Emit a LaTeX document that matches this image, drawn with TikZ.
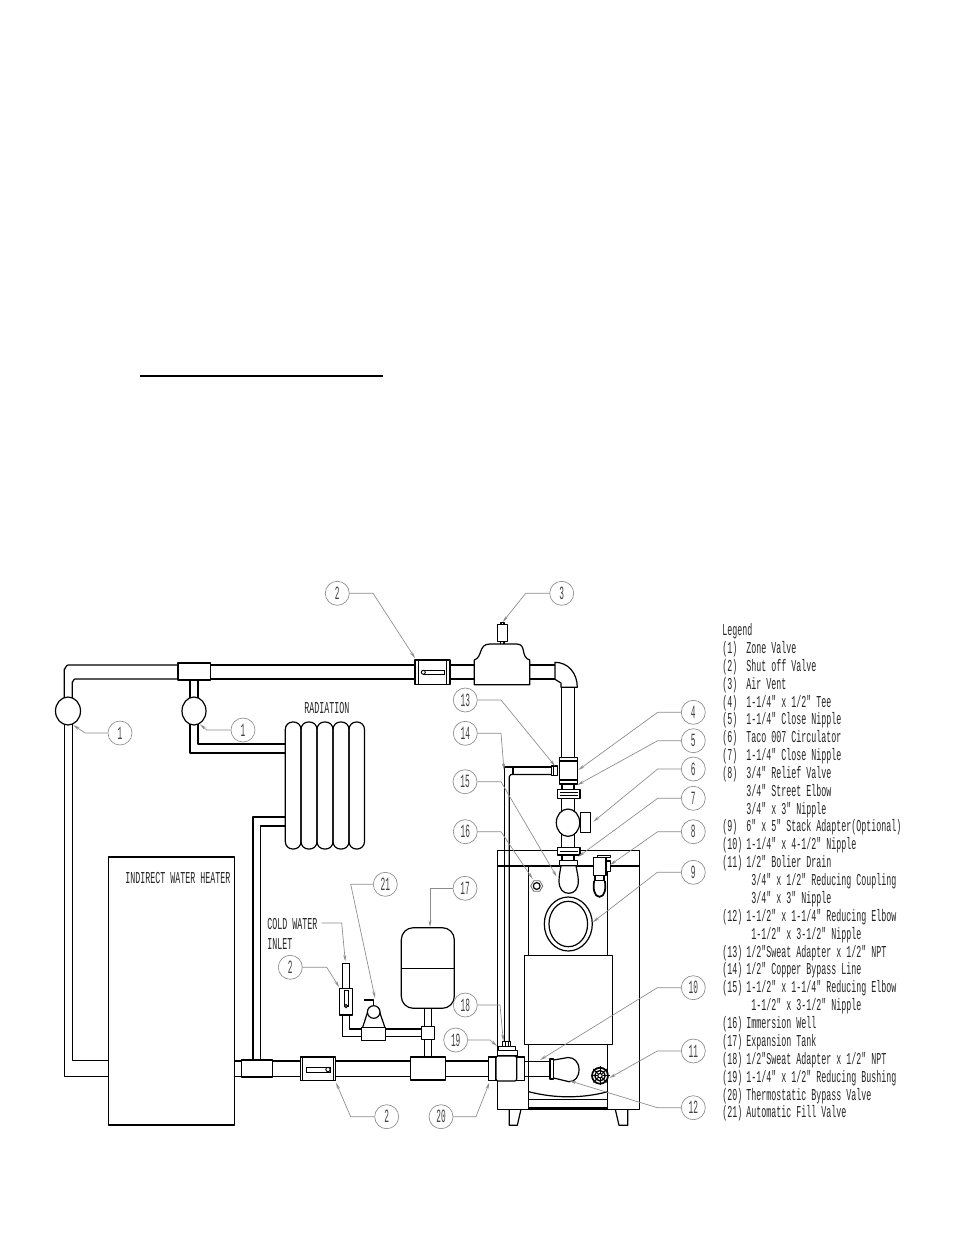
\documentclass[tikz,border=0pt]{standalone}
\usepackage{fontspec}
\usetikzlibrary{arrows.meta}
\newfontfamily\cadfont[FakeStretch=0.5]{Liberation Mono}
\newfontfamily\cadnum[FakeStretch=0.42]{Liberation Mono}
\definecolor{leadgray}{gray}{0.55}
\tikzset{
  x=0.75pt,y=-0.75pt,
  pipe/.style={draw=black,line width=0.9pt,line join=round},
  fit/.style={draw=black,fill=white,line width=0.9pt,line join=round},
  thin line/.style={draw=black,line width=0.7pt},
  callout/.style={circle,draw=black!45,line width=0.5pt,minimum size=18pt,inner sep=0pt,font=\cadnum\fontsize{14}{15}\selectfont,text=black!75},
  leader/.style={draw=leadgray,line width=0.5pt,-{Stealth[length=5pt,width=2.2pt,fill=leadgray]}},
  cad/.style={inner sep=0pt,anchor=base west,yshift=-0.4pt,font=\cadfont\fontsize{12.5}{13}\selectfont,text=black!85},
}
% name, text, circle x,y  bend x,y  tip x,y
\newcommand\callit[5]{%
  \node[callout] (c#1) at (#3) {#2};
  \coordinate (b#1) at (#4);
  \coordinate (t#1) at (#5);
  \draw[leader] (c#1) -- (b#1) -- (t#1);
}
\newcommand\leg[3]{%
  \node[cad] (la#1) at (722,#1) {#2};
  \node[cad] (lb#1) at (746,#1) {#3};
}
\newcommand\legi[2]{\node[cad] (lb#1) at (751,#1) {#2};}
\newcommand\legj[2]{\node[cad] (lb#1) at (746,#1) {#2};}
\begin{document}
\begin{tikzpicture}
\useasboundingbox (0,0) rectangle (954,1235);
\fill[white] (0,0) rectangle (954,1235);
% heading rule
\draw[line width=1.4pt] (140,376) -- (383,376);

% ---------- boiler ----------
\draw[pipe] (497.3,850.3) rectangle (639.3,1109.3);
\draw[pipe] (497.3,866) -- (639.3,866);
\draw[pipe] (528.7,866) -- (528.7,1109.3);
\draw[pipe] (607.7,866) -- (607.7,1109.3);
\draw[pipe] (528.7,1099.3) -- (607.7,1099.3);
\draw[line width=1.4pt] (528.7,1108) -- (607.7,1108);
\draw[pipe] (528.7,1091.7) .. controls (555,1098.5) and (582,1098.5) .. (607.7,1091.7);
\draw[fit] (524.3,955.3) rectangle (612.7,1044.3);
\draw[pipe] (568.3,924) ellipse [x radius=24,y radius=27];
\draw[pipe] (568.3,924) ellipse [x radius=19.3,y radius=22.7];
\draw[pipe] (509.3,1109.3) -- (509.3,1125.3) -- (517.3,1125.3) -- (521,1109.3);
\draw[pipe] (615.3,1109.3) -- (619,1125.3) -- (627.7,1125.3) -- (627.7,1109.3);
% immersion well
\draw[draw=black!60,line width=0.6pt] (542.7,886) -- (539.7,880.8) -- (533.7,880.8) -- (530.7,886) -- (533.7,891.2) -- (539.7,891.2) -- cycle;
\draw[pipe] (536.7,886) circle [radius=3.4];
% drain
\draw[line width=1.3pt] (600,1075.7) circle [radius=8];
\draw[line width=1pt] (600,1075.7) circle [radius=5.2];
\draw[line width=0.8pt] (600,1075.7) circle [radius=2.2];
\foreach \a in {0,45,...,315}{\draw[line width=0.6pt] (600,1075.7) ++(\a:2.5) -- ++(\a:7);}

% ---------- supply and return piping ----------
\draw[pipe] (178,665) -- (68,665) to[out=180,in=-90] (64.3,669) -- (64.3,699);
\draw[pipe] (178,679) -- (75,679) to[out=180,in=-90] (72.3,682) -- (72.3,698);
\draw[pipe] (64.3,724) -- (64.3,1076.7) -- (108.3,1076.7);
\draw[pipe] (72.3,724) -- (72.3,1060.5) -- (108.3,1060.5);
\draw[pipe] (210.7,665) -- (415,665);
\draw[pipe] (210.7,679) -- (415,679);
\draw[pipe] (190,680) -- (190,699);
\draw[pipe] (198,680) -- (198,698);
\draw[pipe] (198,724) -- (198,744) -- (285.3,744);
\draw[pipe] (190,724) -- (190,753) -- (285.3,753);
\draw[pipe] (253,1060) -- (253,817) -- (285.3,817);
\draw[pipe] (260.7,1060) -- (260.7,826) -- (285.3,826);
\draw[fit] (178,663) rectangle (210.7,680);
\draw[fit] (68,711) ellipse [x radius=12.5,y radius=14];
\draw[fit] (194,711) ellipse [x radius=12,y radius=14];
% radiation
\foreach \xa/\xb in {285.3/301,301/317,317/333,333/349,349/364.5}{
  \draw[pipe,rounded corners=5.5pt] (\xa,722) rectangle (\xb,849);
}
\node[cad] (radlabel) at (304,713) {RADIATION};
% water heater
\draw[fit] (108.3,857) rectangle (234.3,1125);
\node[cad] (heaterlabel) at (125,883) {INDIRECT WATER HEATER};

% bottom run
\draw[pipe] (234.3,1061) -- (241.3,1061) (234.3,1076.7) -- (241.3,1076.7);
\draw[pipe] (272.7,1061) -- (300.3,1061) (272.7,1076.7) -- (300.3,1076.7);
\draw[pipe] (335.7,1061) -- (410.3,1061) (335.7,1076.7) -- (410.3,1076.7);
\draw[pipe] (445.7,1061) -- (488.3,1061) (445.7,1076.7) -- (488.3,1076.7);
\draw[fit] (241.3,1060) rectangle (272.7,1077);
\draw[fit] (300.3,1057) rectangle (335.7,1080.7);
\draw[pipe] (302.7,1057) -- (302.7,1080.7) (333.3,1057) -- (333.3,1080.7);
\draw[thin line] (306,1067) rectangle (330,1072);
\draw[thin line,fill=white] (328,1069.5) circle [radius=2.2];
\draw[fit] (410.3,1057) rectangle (445.7,1080);
% expansion tank branch
\draw[pipe] (424.7,1008) -- (424.7,1057) (431.3,1008) -- (431.3,1057);
\draw[pipe,rounded corners=9pt] (401.3,927.7) rectangle (454.3,1008.3);
\draw[pipe] (401.3,968.3) -- (454.3,968.3);
\draw[pipe] (385.7,1029) -- (421.3,1029) (385.7,1036.3) -- (421.3,1036.3);
\draw[fit] (421.3,1026.3) rectangle (434.3,1039.7);
% fill valve
\draw[pipe] (342.3,1015) -- (342.3,1036.3) -- (361.3,1036.3);
\draw[pipe] (349.7,1015) -- (349.7,1029) -- (361.3,1029);
\draw[fit] (361.3,1027.7) rectangle (385.7,1040.3);
\draw[pipe] (362.5,1027.7) -- (368,1011) (385,1027.7) -- (379.3,1011);
\draw[fit] (373.7,1012) circle [radius=6.3];
\draw[pipe] (364.3,1000) -- (373.7,1000) -- (373.7,1005.7);
\draw[pipe] (342.3,963.3) -- (349.7,963.3) (342.3,963.3) -- (342.3,988) (349.7,963.3) -- (349.7,988);
\draw[fit] (339.3,988.3) rectangle (352.7,1015);
\draw[thin line] (344,990.7) rectangle (348,1006.7);
\draw[thin line,fill=white] (346,1006) circle [radius=1.6];
\node[cad] (coldlabel) at (267,929) {COLD WATER};
\node[cad] (inletlabel) at (267,949) {INLET};

% ---------- top of the loop ----------
\draw[fit] (415,660) rectangle (450,684.7);
\draw[pipe] (418.3,660) -- (418.3,684.7) (446.7,660) -- (446.7,684.7);
\draw[thin line] (423.3,670) rectangle (444,674.7);
\draw[thin line,fill=white] (423.3,672.3) circle [radius=2];
\draw[pipe] (450,665) -- (474.3,665) (450,679) -- (474.3,679);
\draw[pipe] (474.3,684.7) -- (474.3,660) .. controls (483,657) and (478,644) .. (490,644) -- (516.7,644) .. controls (527,644) and (520,657) .. (529.7,660) -- (529.7,684.7) -- cycle;
\draw[pipe] (500.7,641.3) -- (500.7,644) (504,641.3) -- (504,644);
\draw[fit] (497.3,624.3) rectangle (507.7,641.3);
\draw[pipe] (501,624.3) -- (501,622.5) -- (504,622.5) -- (504,624.3);
\draw[pipe] (529.7,665) -- (555,665) (529.7,679) -- (555,679);
\draw[pipe] (555,662.3) .. controls (568,662.3) and (577.3,673) .. (577.3,687.3) -- (561,687.3) -- (561,683) -- (555,679.3) -- cycle;

% main riser
\draw[pipe] (561.3,687.3) -- (561.3,757.3) (574.7,687.3) -- (574.7,757.3);
\draw[fit] (559.3,757.3) rectangle (577.7,784);
\draw[pipe] (559.3,761) -- (577.7,761) (559.3,780) -- (577.7,780);
\draw[pipe] (562,784) -- (562,789.3) (574,784) -- (574,789.3);
\draw[fit] (557.3,789.3) rectangle (580,798.3);
\draw[pipe] (560,792.3) -- (577.5,792.3) (560,795.3) -- (577.5,795.3);
\draw[pipe] (561.3,798.3) -- (561.3,812) (574.7,798.3) -- (574.7,812);
\draw[fit] (568,822.7) ellipse [x radius=11.7,y radius=13.7];
\draw[fit] (580.7,812.7) rectangle (590.7,832.7);
\draw[pipe] (561.3,834) -- (561.3,847.7) (574.7,834) -- (574.7,847.7);
\draw[fit] (557.3,847.7) rectangle (580,855);
\draw[pipe] (560,851.3) -- (577.5,851.3);
\draw[pipe] (562,855) -- (562,860.7) (574,855) -- (574,860.7);
\draw[fit] (559.3,860.7) rectangle (577.7,865.7);
\draw[fit] (561,865.7) .. controls (560,872) and (559,876) .. (559,881) .. controls (559,889) and (563,893.3) .. (568.7,893.3) .. controls (574.5,893.3) and (578.3,889) .. (578.3,881) .. controls (578.3,876) and (577,872) .. (576,865.7) -- cycle;

% relief valve
\draw[pipe] (597.3,857.7) -- (597.3,855.3) -- (610.7,855.3) -- (610.7,857.7) -- (597.3,857.7);
\draw[fit] (593.3,857.7) rectangle (606,875.7);
\draw[fit] (606,861) rectangle (610.7,871.7);
\draw[pipe] (595,875.7) -- (595,880) (604,875.7) -- (604,880);
\draw[line width=1.3pt] (594,880.5) -- (605,880.5);
\draw[line width=1.3pt] (594,881) .. controls (593,888) and (594,896.8) .. (599.5,896.8) .. controls (605,896.8) and (606,888) .. (605,881);

% bypass line
\draw[pipe] (551.7,767) -- (504.3,767) -- (504.3,1041.7);
\draw[pipe] (551.7,774.5) -- (511,774.5) to[out=180,in=-90] (509.3,776.5) -- (509.3,1041.7);
\draw[pipe] (513,767) -- (513,774.5);
\draw[fit] (551.7,766) rectangle (557.3,775.7);
\draw[pipe] (553.5,766) -- (553.5,775.7);

% thermostatic bypass valve
\draw[fit] (488.3,1057) rectangle (496,1080.7);
\draw[fit] (516.7,1057) rectangle (524.3,1080.7);
\draw[fit] (497.3,1050.7) rectangle (517.7,1056);
\draw[fit,rounded corners=1.5pt] (496,1056) rectangle (516.7,1081);
\draw[fit] (498.3,1046.7) rectangle (515.7,1050.7);
\draw[fit] (502.3,1041.7) rectangle (510.7,1046.7);
\draw[thin line] (505,1041.7) -- (505,1046.7) (508,1041.7) -- (508,1046.7);
\draw[pipe] (524.3,1061.7) -- (550,1061.7) (524.3,1076.7) -- (550,1076.7);
\draw[fit] (550,1059) rectangle (553.7,1079);
\draw[pipe] (553.7,1060) -- (568,1057.5) .. controls (574,1057.3) and (579,1062) .. (579,1069.5) .. controls (579,1077) and (575,1081.7) .. (569,1081.7) -- (553.7,1078);

% ---------- callouts ----------
\callit{A}{1}{120,733}{85,733}{73.3,725}
\callit{B}{1}{243,730}{206.7,730}{200,724.3}
\callit{C}{2}{337.3,593.3}{373,593.3}{415,658}
\callit{D}{3}{561.7,593.3}{525.7,593.3}{502.7,622}
\callit{E}{13}{465.3,700}{501,700}{555,766}
\callit{F}{14}{465.3,733.3}{501,733.3}{504,770}
\callit{G}{15}{465,781.7}{501,781.7}{556.7,876.7}
\callit{H}{16}{465.3,831.7}{501,831.7}{532.7,879}
\callit{I}{4}{693.3,712.3}{657.7,712.3}{578.3,770}
\callit{J}{5}{693.3,740.7}{657.7,740.7}{577.3,785}
\callit{K}{6}{693.3,769}{657.7,769}{593.3,821.7}
\callit{L}{7}{693.3,798.3}{657.7,798.3}{578.3,856.7}
\callit{M}{8}{693.3,831.7}{657.7,831.7}{610,865}
\callit{N}{9}{693.3,872.3}{657.3,872.3}{592.7,922.3}
\callit{O}{10}{693.3,987.7}{657.3,987.7}{540,1060}
\callit{P}{11}{693.3,1051}{657.3,1051}{609.3,1078}
\callit{Q}{12}{693.3,1107.7}{657.3,1107.7}{569.3,1080.7}
\callit{R}{18}{465.3,1005}{500,1005}{503.3,1041}
\callit{S}{19}{455.7,1040}{490,1040}{497,1046}
\callit{T}{17}{465,888.3}{430,888.3}{430,927}
\callit{U}{21}{385.3,884.3}{350.7,884.3}{375,998}
\callit{V}{2}{290.3,967.3}{326.7,967.3}{339.3,987.3}
\callit{W}{2}{386.7,1116.7}{350.7,1116.7}{336,1082.7}
\callit{X}{20}{441,1116.7}{476,1116.7}{489.3,1082.7}
\coordinate (bcold) at (341.7,923);
\coordinate (tcold) at (345.3,961.5);
\draw[leader] (coldlabel.east |- bcold) ++(4,0) -- (bcold) -- (tcold);

% ---------- legend ----------
\node[cad] (legendhead) at (722,635) {Legend};
\leg{653}{(1)}{Zone Valve}
\leg{671}{(2)}{Shut off Valve}
\leg{689}{(3)}{Air Vent}
\leg{707}{(4)}{1-1/4" x 1/2" Tee}
\leg{724}{(5)}{1-1/4" Close Nipple}
\leg{742}{(6)}{Taco 007 Circulator}
\leg{760}{(7)}{1-1/4" Close Nipple}
\leg{778}{(8)}{3/4" Relief Valve}
\legj{796}{3/4" Street Elbow}
\legj{814}{3/4" x 3" Nipple}
\leg{831}{(9)}{6" x 5" Stack Adapter(Optional)}
\leg{849}{(10)}{1-1/4" x 4-1/2" Nipple}
\leg{867}{(11)}{1/2" Bolier Drain}
\legi{885}{3/4" x 1/2" Reducing Coupling}
\legi{903}{3/4" x 3" Nipple}
\leg{921}{(12)}{1-1/2" x 1-1/4" Reducing Elbow}
\legi{939}{1-1/2" x 3-1/2" Nipple}
\leg{957}{(13)}{1/2"Sweat Adapter x 1/2" NPT}
\leg{974}{(14)}{1/2" Copper Bypass Line}
\leg{992}{(15)}{1-1/2" x 1-1/4" Reducing Elbow}
\legi{1010}{1-1/2" x 3-1/2" Nipple}
\leg{1028}{(16)}{Immersion Well}
\leg{1046}{(17)}{Expansion Tank}
\leg{1064}{(18)}{1/2"Sweat Adapter x 1/2" NPT}
\leg{1082}{(19)}{1-1/4" x 1/2" Reducing Bushing}
\leg{1100}{(20)}{Thermostatic Bypass Valve}
\leg{1117}{(21)}{Automatic Fill Valve}
\end{tikzpicture}
\end{document}
